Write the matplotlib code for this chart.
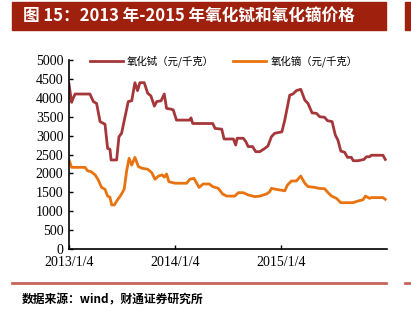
import numpy as np
import pandas as pd
import matplotlib
matplotlib.use("Agg")
import matplotlib.pyplot as plt
from matplotlib.patches import Rectangle
from matplotlib.lines import Line2D

plt.rcParams['font.family'] = ['Noto Sans CJK SC', 'DejaVu Sans']

# 氧化铽 price (元/千克)
tb_dates = ["2013-01-04", "2013-01-13", "2013-01-19", "2013-01-25", "2013-03-17", "2013-03-29",
            "2013-04-09", "2013-04-21", "2013-05-08", "2013-05-17", "2013-05-25", "2013-05-29",
            "2013-06-17", "2013-06-25", "2013-07-04", "2013-07-27", "2013-08-08", "2013-08-19",
            "2013-08-28", "2013-09-05", "2013-09-20", "2013-10-02", "2013-10-13", "2013-10-25",
            "2013-11-02", "2013-11-17", "2013-11-28", "2013-12-06", "2013-12-21", "2013-12-29",
            "2014-01-09", "2014-02-24", "2014-02-28", "2014-03-06", "2014-05-14", "2014-05-22",
            "2014-06-14", "2014-06-22", "2014-07-24", "2014-08-01", "2014-08-06", "2014-08-27",
            "2014-09-05", "2014-09-13", "2014-09-28", "2014-10-09", "2014-10-23", "2014-11-09",
            "2014-11-20", "2014-12-02", "2014-12-13", "2015-01-07", "2015-01-17", "2015-02-03",
            "2015-02-14", "2015-02-26", "2015-03-13", "2015-03-27", "2015-04-07", "2015-04-21",
            "2015-05-06", "2015-05-17", "2015-06-03", "2015-06-13", "2015-06-29", "2015-07-10",
            "2015-07-19", "2015-07-29", "2015-08-11", "2015-08-21", "2015-09-03", "2015-09-10",
            "2015-09-26", "2015-10-17", "2015-10-25", "2015-11-05", "2015-11-11", "2015-12-21",
            "2015-12-29"]
tb_price = [4365, 3880, 4000, 4100, 4100, 3900,
            3850, 3370, 3300, 2660, 2640, 2355,
            2355, 2970, 3060, 3900, 3920, 4400,
            4190, 4400, 4400, 4120, 4050, 3780,
            3900, 3920, 4100, 3720, 3700, 3680,
            3410, 3410, 3470, 3320, 3320, 3190,
            3170, 2910, 2910, 2750, 2930, 2930,
            2840, 2710, 2710, 2575, 2575, 2660,
            2725, 2970, 3060, 3100, 3410, 4070,
            4100, 4190, 4225, 3940, 3850, 3600,
            3590, 3500, 3485, 3395, 3370, 3015,
            2880, 2590, 2560, 2425, 2425, 2335,
            2335, 2370, 2440, 2440, 2480, 2480,
            2370]

# 氧化镝 price (元/千克)
dy_dates = ["2013-01-04", "2013-01-13", "2013-02-28", "2013-03-09", "2013-03-21", "2013-04-04",
            "2013-04-15", "2013-04-26", "2013-05-08", "2013-05-17", "2013-05-25", "2013-05-31",
            "2013-06-09", "2013-06-20", "2013-07-02", "2013-07-13", "2013-07-22", "2013-07-30",
            "2013-08-08", "2013-08-19", "2013-08-31", "2013-09-13", "2013-10-02", "2013-10-16",
            "2013-10-27", "2013-11-08", "2013-11-21", "2013-11-28", "2013-12-06", "2013-12-14",
            "2014-01-04", "2014-02-13", "2014-02-24", "2014-03-10", "2014-03-28", "2014-04-11",
            "2014-05-02", "2014-05-14", "2014-06-02", "2014-06-17", "2014-07-01", "2014-07-29",
            "2014-08-10", "2014-08-27", "2014-09-13", "2014-10-06", "2014-10-23", "2014-11-15",
            "2014-11-26", "2014-12-02", "2014-12-17", "2015-01-17", "2015-01-26", "2015-02-09",
            "2015-02-26", "2015-03-06", "2015-03-13", "2015-03-27", "2015-04-07", "2015-04-30",
            "2015-05-14", "2015-06-03", "2015-06-15", "2015-06-27", "2015-07-14", "2015-07-29",
            "2015-09-09", "2015-09-26", "2015-10-13", "2015-10-22", "2015-11-05", "2015-11-11",
            "2015-12-21", "2015-12-29"]
dy_price = [2355, 2160, 2160, 2070, 2045, 1960,
            1825, 1630, 1580, 1400, 1370, 1165,
            1165, 1300, 1430, 1580, 2090, 2400,
            2220, 2425, 2180, 2135, 2110, 2020,
            1845, 1930, 1960, 1900, 1985, 1780,
            1740, 1740, 1845, 1870, 1630, 1720,
            1720, 1650, 1605, 1455, 1400, 1400,
            1490, 1490, 1430, 1385, 1400, 1455,
            1515, 1605, 1580, 1540, 1690, 1800,
            1800, 1870, 1930, 1740, 1650, 1630,
            1605, 1595, 1490, 1400, 1340, 1225,
            1225, 1270, 1300, 1400, 1340, 1360,
            1360, 1315]

xtick_dates = ["2013-01-04", "2014-01-04", "2015-01-04"]
xtick_labels = ["2013/1/4", "2014/1/4", "2015/1/4"]
yticks = np.arange(0, 5001, 500)

W, H = 411, 325
fig = plt.figure(figsize=(W / 100, H / 100), dpi=100)
ax = fig.add_axes([69 / W, 1 - 249 / H, (387 - 69) / W, (249 - 60) / H])

ax.plot(pd.to_datetime(tb_dates), tb_price, color="#A5373A", lw=2.0, label="氧化铽（元/千克）")
ax.plot(pd.to_datetime(dy_dates), dy_price, color="#E8730F", lw=2.0, label="氧化镝（元/千克）")

ax.set_ylim(0, 5000)
ax.set_xlim(pd.Timestamp("2013-01-04"), pd.Timestamp("2016-01-04"))
ax.set_yticks(yticks)
ax.set_yticklabels([str(v) for v in yticks], family="Liberation Serif", fontsize=10)
ax.set_xticks(pd.to_datetime(xtick_dates))
ax.set_xticklabels(xtick_labels, family="Liberation Serif", fontsize=10)
ax.tick_params(axis="both", direction="in", length=3, width=1, colors="black")
ax.tick_params(axis="y", pad=4)
ax.tick_params(axis="x", pad=5)
for s in ["top", "right"]:
    ax.spines[s].set_visible(False)
for s in ["left", "bottom"]:
    ax.spines[s].set_linewidth(1.2)

ax.legend(loc="upper left", bbox_to_anchor=(0.035, 1.075), ncol=2, frameon=False,
          handlelength=3.2, handletextpad=0.4, columnspacing=1.8,
          prop={"family": ["Noto Sans CJK SC"], "size": 7.5})

# title banner
fig.patches.append(Rectangle((12 / W, 1 - 30 / H), (386 - 12) / W, 28 / H,
                             transform=fig.transFigure, color="#A0200E", zorder=0))
fig.patches.append(Rectangle((405 / W, 1 - 30 / H), 6 / W, 28 / H,
                             transform=fig.transFigure, color="#A0200E", zorder=0))
fig.text(23 / W, 1 - 16 / H, "图 15：2013 年-2015 年氧化铽和氧化镝价格", color="white",
         fontsize=12, fontweight="bold", va="center", ha="left")

# bottom rule and source
fig.add_artist(Line2D([12 / W, 386 / W], [1 - 283 / H, 1 - 283 / H], transform=fig.transFigure,
                      color="#C8645A", lw=2))
fig.add_artist(Line2D([405 / W, 411 / W], [1 - 283 / H, 1 - 283 / H], transform=fig.transFigure,
                      color="#C8645A", lw=2))
fig.text(22 / W, 1 - 300 / H, "数据来源：wind，财通证券研究所", color="black",
         fontsize=8.5, fontweight="bold", va="center", ha="left")

plt.savefig("out.png", dpi=100)
